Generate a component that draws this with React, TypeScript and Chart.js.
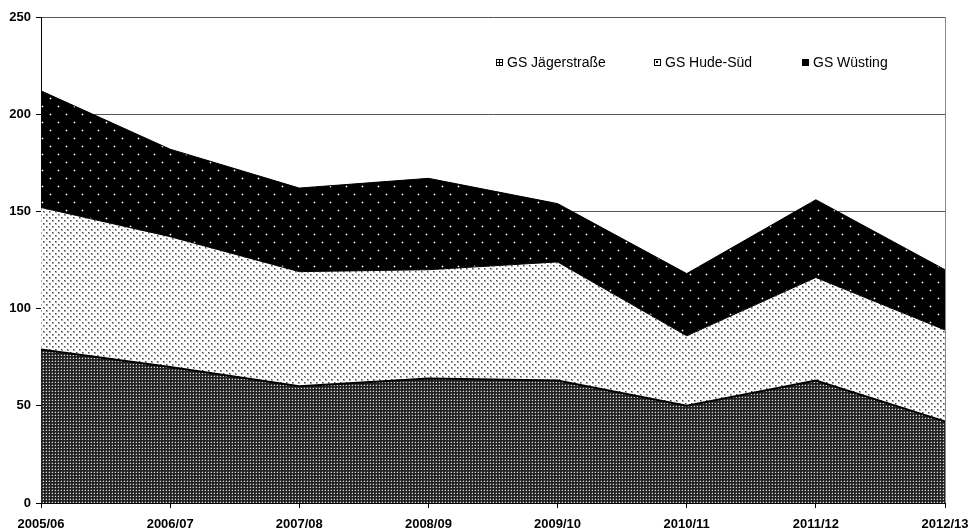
import React, { useEffect, useRef } from "react";
import { Chart, registerables } from "chart.js";

Chart.register(...registerables);

const categories = ["2005/06", "2006/07", "2007/08", "2008/09", "2009/10", "2010/11", "2011/12", "2012/13"];
const jaegerstrasse = [79, 70, 60, 64, 63, 50, 63, 42];
const hudeSued = [73, 67, 59, 56, 61, 36, 53, 47];
const wuesting = [60, 45, 43, 47, 30, 32, 40, 31];
const seriesNames = ["GS Jägerstraße", "GS Hude-Süd", "GS Wüsting"];
const yMin = 0;
const yMax = 250;
const yStep = 50;

const FONT = "'Liberation Sans', Arial, sans-serif";

function makePattern(w: number, h: number, draw: (ctx: CanvasRenderingContext2D) => void): CanvasPattern | string {
  const c = document.createElement("canvas");
  c.width = w;
  c.height = h;
  const ctx = c.getContext("2d");
  if (!ctx) return "#888";
  draw(ctx);
  const p = ctx.createPattern(c, "repeat");
  return p || "#888";
}

function px(ctx: CanvasRenderingContext2D, x: number, y: number, color: string, w = 1, h = 1) {
  ctx.fillStyle = color;
  ctx.fillRect(x, y, w, h);
}

export default function App() {
  const ref = useRef<HTMLCanvasElement | null>(null);

  useEffect(() => {
    if (!ref.current) return;

    const jaegerPattern = makePattern(3, 3, (ctx) => {
      px(ctx, 0, 0, "#222222", 3, 3);
      px(ctx, 0, 1, "#555555");
      px(ctx, 1, 0, "#555555");
      px(ctx, 1, 1, "#d8d8d8");
    });
    const hudePattern = makePattern(6, 6, (ctx) => {
      px(ctx, 0, 0, "#ffffff", 6, 6);
      const dot = (x: number, y: number) => {
        px(ctx, x, y, "#a8a8a8", 2, 2);
        px(ctx, x, y, "#444444");
      };
      dot(1, 1);
      dot(4, 4);
    });
    const wuestingPattern = makePattern(16, 16, (ctx) => {
      px(ctx, 0, 0, "#000000", 16, 16);
      const dot = (x: number, y: number) => {
        px(ctx, x - 1, y, "#5a5a5a", 3, 1);
        px(ctx, x, y - 1, "#5a5a5a", 1, 3);
        px(ctx, x, y, "#ffffff");
      };
      dot(2, 2);
      dot(10, 10);
    });

    const patterns = [jaegerPattern, hudePattern, wuestingPattern];

    const legendPlugin = {
      id: "innerLegend",
      afterDraw(chart: any) {
        const ctx: CanvasRenderingContext2D = chart.ctx;
        const items = [
          { x: 496, name: seriesNames[0], kind: 0 },
          { x: 654, name: seriesNames[1], kind: 1 },
          { x: 802, name: seriesNames[2], kind: 2 },
        ];
        const y = 63;
        ctx.save();
        items.forEach((it) => {
          const bx = it.x;
          const by = y - 4;
          if (it.kind === 0) {
            ctx.fillStyle = "#000";
            ctx.fillRect(bx, by, 7, 7);
            ctx.fillStyle = "#fff";
            ctx.fillRect(bx + 1, by + 1, 2, 2);
            ctx.fillRect(bx + 4, by + 1, 2, 2);
            ctx.fillRect(bx + 1, by + 4, 2, 2);
            ctx.fillRect(bx + 4, by + 4, 2, 2);
          } else if (it.kind === 1) {
            ctx.fillStyle = "#fff";
            ctx.fillRect(bx, by, 7, 7);
            ctx.strokeStyle = "#000";
            ctx.lineWidth = 1;
            ctx.strokeRect(bx + 0.5, by + 0.5, 6, 6);
            ctx.fillStyle = "#000";
            ctx.fillRect(bx + 2, by + 2, 2, 2);
          } else {
            ctx.fillStyle = "#000";
            ctx.fillRect(bx, by, 7, 7);
          }
          ctx.fillStyle = "#000";
          ctx.font = `14px ${FONT}`;
          ctx.textBaseline = "middle";
          ctx.textAlign = "left";
          ctx.fillText(it.name, bx + 11, y);
        });
        ctx.restore();
      },
      afterDatasetsDraw(chart: any) {
        const ctx: CanvasRenderingContext2D = chart.ctx;
        const a = chart.chartArea;
        ctx.save();
        ctx.strokeStyle = "#8a8a8a";
        ctx.lineWidth = 1;
        ctx.beginPath();
        ctx.moveTo(Math.round(a.right) + 0.5, a.top);
        ctx.lineTo(Math.round(a.right) + 0.5, a.bottom);
        ctx.stroke();
        ctx.restore();
      },
    };

    const chart = new Chart(ref.current, {
      type: "line",
      data: {
        labels: categories,
        datasets: [
          {
            label: seriesNames[0],
            data: jaegerstrasse,
            backgroundColor: patterns[0] as any,
            borderColor: "#000",
            borderWidth: 2,
            fill: "origin",
            pointRadius: 0,
          },
          {
            label: seriesNames[1],
            data: hudeSued,
            backgroundColor: patterns[1] as any,
            borderColor: "#000",
            borderWidth: 1,
            fill: "-1",
            pointRadius: 0,
          },
          {
            label: seriesNames[2],
            data: wuesting,
            backgroundColor: patterns[2] as any,
            borderColor: "#000",
            borderWidth: 1,
            fill: "-1",
            pointRadius: 0,
          },
        ],
      },
      options: {
        responsive: false,
        animation: false,
        events: [],
        layout: { padding: { top: 17, right: 23, left: 0, bottom: 0 } },
        elements: { line: { tension: 0 }, point: { radius: 0 } },
        plugins: {
          legend: { display: false },
          tooltip: { enabled: false },
        },
        scales: {
          x: {
            type: "category",
            offset: false,
            grid: {
              display: true,
              drawOnChartArea: false,
              drawTicks: true,
              tickLength: 5,
              color: "#000",
              tickColor: "#000",
            },
            border: { display: true, color: "#000", width: 1 },
            ticks: {
              color: "#000",
              font: { family: FONT, size: 13, weight: "bold" },
              maxRotation: 0,
              minRotation: 0,
              autoSkip: false,
              padding: 9,
            },
            afterFit: (s: any) => {
              s.height = 28;
              s.paddingLeft = 0;
              s.paddingRight = 0;
            },
          },
          y: {
            stacked: true,
            min: yMin,
            max: yMax,
            grid: {
              color: "#555",
              tickColor: "#000",
              tickLength: 5,
              drawTicks: true,
            },
            border: { display: true, color: "#000", width: 1 },
            ticks: {
              stepSize: yStep,
              color: "#000",
              font: { family: FONT, size: 13, weight: "bold" },
              padding: 5,
            },
            afterFit: (s: any) => {
              s.width = 41;
              s.paddingTop = 0;
              s.paddingBottom = 0;
            },
          },
        },
      },
      plugins: [legendPlugin],
    });

    return () => chart.destroy();
  }, []);

  return (
    <div style={{ position: "fixed", left: 0, top: 0, width: 968, height: 531, background: "#fff" }}>
      <canvas ref={ref} width={968} height={531} style={{ display: "block", width: 968, height: 531 }} />
    </div>
  );
}
